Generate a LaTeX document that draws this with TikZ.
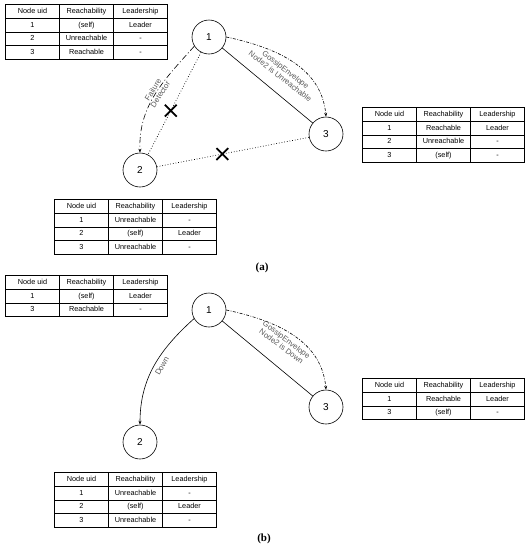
\documentclass[tikz,border=0pt]{standalone}
\usepackage{fontspec}
\newfontfamily\diag{Liberation Sans}
\newfontfamily\capfont{Liberation Serif}
\usetikzlibrary{matrix,arrows.meta,shapes.misc}
\begin{document}
\begin{tikzpicture}[x=1pt,y=1pt,
  tbl/.style={matrix of nodes, column sep=-0.6pt, row sep=-0.6pt, inner sep=0pt, anchor=north west,
    nodes={draw, line width=0.6pt, minimum width=54pt, minimum height=13.7pt, inner sep=0pt,
      text height=5.6pt, text depth=1.6pt,
      font=\diag\fontsize{7.3}{8}\selectfont, anchor=center}},
  peer/.style={draw, circle, line width=0.6pt, minimum size=34pt, inner sep=0pt, font=\diag\fontsize{10}{12}\selectfont},
  link/.style={line width=0.6pt},
  lost/.style={line width=0.7pt, dotted},
  fdarrow/.style={line width=0.6pt, dash pattern=on 6pt off 2.5pt on 1pt off 2.5pt, -{Stealth[length=4pt,width=3pt]}},
  gossip/.style={line width=0.6pt, dash pattern=on 3pt off 1.5pt on 0.8pt off 1.5pt, -{Stealth[length=4pt,width=3pt]}},
  downarrow/.style={line width=0.6pt, -{Stealth[length=4pt,width=3pt]}},
  elabel/.style={font=\diag\fontsize{7.8}{8.6}\selectfont, text=black!65, align=center, inner sep=0pt},
  crossmark/.style={cross out, draw, solid, line width=1.8pt, minimum size=10pt, inner sep=0pt},
  caption/.style={font=\capfont\bfseries\fontsize{11}{13}\selectfont}
]
\useasboundingbox (0,0) rectangle (527,-550);

% ---------------- (a) ----------------
\matrix (ta1) [tbl] at (5,-4) {
Node uid & Reachability & Leadership \\
1 & (self) & Leader \\
2 & Unreachable & - \\
3 & Reachable & - \\
};
\matrix (ta3) [tbl] at (362,-107) {
Node uid & Reachability & Leadership \\
1 & Reachable & Leader \\
2 & Unreachable & - \\
3 & (self) & - \\
};
\matrix (ta2) [tbl] at (54,-199) {
Node uid & Reachability & Leadership \\
1 & Unreachable & - \\
2 & (self) & Leader \\
3 & Unreachable & - \\
};

\node[peer] (a1) at (209,-37) {1};
\node[peer] (a2) at (140,-170) {2};
\node[peer] (a3) at (326,-134) {3};

\draw[link] (a1) -- (a3);
\draw[lost] (a1) -- node[crossmark, pos=0.57] (xa12) {} (a2);
\draw[lost] (a2) -- node[crossmark, pos=0.43] (xa23) {} (a3);
\draw[fdarrow] (a1.212) to[out=228, in=92]
  node[elabel, sloped, pos=0.47] (lfd) {Failure\\Detector} (a2.north);
\draw[gossip] (a1.east) to[out=-12, in=95] (a3.north);

\node[elabel, rotate=-38] (lga) at (283,-73) {GossipEnvelope\\Node2 is Unreachable};

\node[caption] (capa) at (262,-268) {(a)};

% ---------------- (b) ----------------
\matrix (tb1) [tbl] at (5,-275) {
Node uid & Reachability & Leadership \\
1 & (self) & Leader \\
3 & Reachable & - \\
};
\matrix (tb3) [tbl] at (362,-378) {
Node uid & Reachability & Leadership \\
1 & Reachable & Leader \\
3 & (self) & - \\
};
\matrix (tb2) [tbl] at (54,-472) {
Node uid & Reachability & Leadership \\
1 & Unreachable & - \\
2 & (self) & Leader \\
3 & Unreachable & - \\
};

\node[peer] (b1) at (209,-310) {1};
\node[peer] (b2) at (140,-442) {2};
\node[peer] (b3) at (326,-407) {3};

\draw[link] (b1) -- (b3);
\draw[downarrow] (b1.210) to[out=222, in=90] (b2.north);
\draw[gossip] (b1.east) to[out=-12, in=95] (b3.north);

\node[elabel, rotate=60] (ldown) at (162,-366) {Down};
\node[elabel, rotate=-37] (lgb) at (284,-343) {GossipEnvelope\\Node2 is Down};

\node[caption] (capb) at (264,-539) {(b)};
\end{tikzpicture}
\end{document}
